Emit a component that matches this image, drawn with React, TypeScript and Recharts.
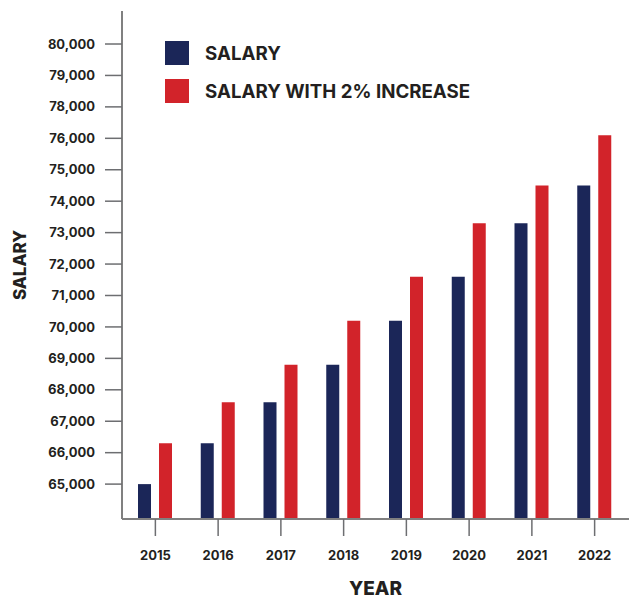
import { BarChart, Bar, XAxis, YAxis, Legend, Label } from 'recharts';

const YEARS = ['2015', '2016', '2017', '2018', '2019', '2020', '2021', '2022'];
const SALARY = [65000, 66300, 67600, 68800, 70200, 71600, 73300, 74500];
const SALARY_RAISED = [66300, 67600, 68800, 70200, 71600, 73300, 74500, 76100];

// tick positions on the value scale and the labels printed next to them
const Y_TICKS = [65000, 66000, 67000, 68000, 69000, 70000, 71000, 72000, 73000, 74000, 75000, 76000, 77000, 78000, 79000];
const Y_TICK_LABELS = ['65,000', '66,000', '67,000', '68,000', '69,000', '70,000', '71,000', '72,000', '73,000', '74,000', '75,000', '76,000', '78,000', '79,000', '80,000'];

const NAVY = '#1b2658';
const RED = '#d2232a';
const INK = '#231f20';
const FONT = 'Inter, "DejaVu Sans", sans-serif';

const data = YEARS.map((year, i) => ({
    year,
    salary: SALARY[i],
    raised: SALARY_RAISED[i],
}));

function SquareLegend({ payload }: any) {
    return (
        <div style={{ display: 'flex', flexDirection: 'column', gap: 14 }}>
            {(payload || []).map((entry: any) => (
                <div key={entry.value} style={{ display: 'flex', alignItems: 'center', gap: 16, height: 24 }}>
                    <div style={{ width: 24, height: 24, background: entry.color }} />
                    <span style={{ fontFamily: FONT, fontWeight: 700, fontSize: 18.7, color: INK, whiteSpace: 'nowrap' }}>
                        {entry.value}
                    </span>
                </div>
            ))}
        </div>
    );
}

function YTitle(props: any) {
    const { viewBox } = props;
    const cy = viewBox.y + viewBox.height / 2;
    return (
        <text
            x={26}
            y={cy}
            transform={`rotate(-90 26 ${cy})`}
            textAnchor="middle"
            fill={INK}
            style={{ fontFamily: FONT, fontWeight: 800, fontSize: 17 }}
        >
            SALARY
        </text>
    );
}

export default function App() {
    const tickStyle = { fontFamily: FONT, fontWeight: 700, fontSize: 13, fill: INK };
    return (
        <div style={{ position: 'absolute', left: 0, top: 0, background: '#fff' }}>
            <BarChart
                width={635}
                height={599}
                data={data}
                margin={{ top: 11, right: 6, left: 0, bottom: 0 }}
                barSize={13}
                barGap={8}
            >
                <XAxis
                    dataKey="year"
                    height={80}
                    padding={{ left: 2, right: 3 }}
                    tickSize={17}
                    tickMargin={15}
                    tick={tickStyle}
                    axisLine={{ stroke: '#808080', strokeWidth: 2 }}
                    tickLine={{ stroke: '#6d6e71', strokeWidth: 1.5 }}
                >
                    <Label
                        value="YEAR"
                        position="insideBottom"
                        offset={4}
                        style={{ fontFamily: FONT, fontWeight: 800, fontSize: 19, fill: INK }}
                    />
                </XAxis>
                <YAxis
                    width={122}
                    domain={[63890, 80050]}
                    allowDataOverflow
                    ticks={Y_TICKS}
                    interval={0}
                    tickFormatter={(v: number) => Y_TICK_LABELS[Y_TICKS.indexOf(v)]}
                    tickSize={17}
                    tickMargin={10}
                    tick={tickStyle}
                    axisLine={{ stroke: '#808080', strokeWidth: 2 }}
                    tickLine={{ stroke: '#6d6e71', strokeWidth: 1.5 }}
                >
                    <Label content={<YTitle />} />
                </YAxis>
                <Legend
                    layout="vertical"
                    verticalAlign="middle"
                    align="center"
                    content={<SquareLegend />}
                    wrapperStyle={{ left: 165, top: 41, width: 'auto', height: 'auto' }}
                />
                <Bar dataKey="salary" name="SALARY" fill={NAVY} isAnimationActive={false} />
                <Bar dataKey="raised" name="SALARY WITH 2% INCREASE" fill={RED} isAnimationActive={false} />
            </BarChart>
        </div>
    );
}
